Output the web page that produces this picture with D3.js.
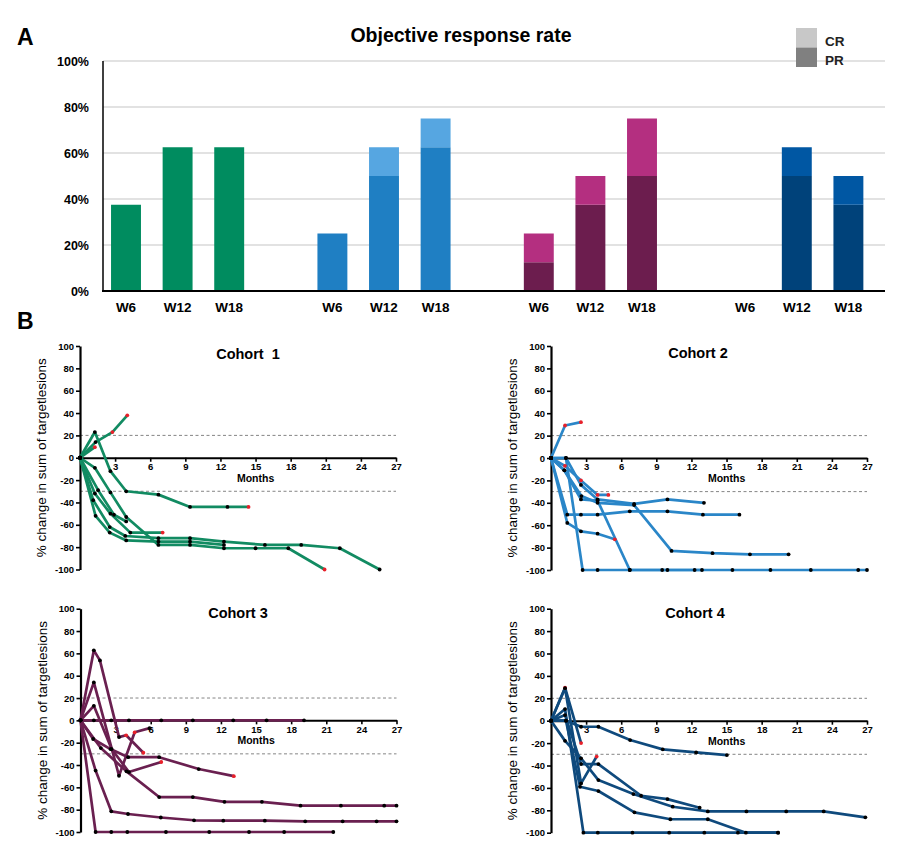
<!DOCTYPE html>
<html><head><meta charset="utf-8">
<script src="https://cdn.jsdelivr.net/npm/d3@7"></script>
<style>body{margin:0;background:#fff}svg{display:block}</style>
</head><body>
<svg id="c" width="906" height="841"></svg>
<script>
// ---------- DATA ----------
const orrCohorts = ["Cohort 1", "Cohort 2", "Cohort 3", "Cohort 4"];
const orrWeeks = ["W6", "W12", "W18"];
const orrPR = [[37.5, 62.5, 62.5], [25, 50, 62.5], [12.5, 37.5, 50], [0, 50, 37.5]];
const orrCR = [[0, 0, 0], [0, 12.5, 12.5], [12.5, 12.5, 25], [0, 12.5, 12.5]];
const orrTicks = [0, 20, 40, 60, 80, 100];
const legendItems = ["CR", "PR"];

const monthTicks = [3, 6, 9, 12, 15, 18, 21, 24, 27];
const pctTicks = [-100, -80, -60, -40, -20, 0, 20, 40, 60, 80, 100];
const refLevels = [20, -30];
const panelTitles = ["Cohort  1", "Cohort 2", "Cohort 3", "Cohort 4"];

// each patient: [month, % change, redFlag]
const cohort1 = [
  [[0,0],[1.27,23],[2.6,-12],[3.95,-30],[6.7,-33],[9.4,-44],[12.6,-44],[14.4,-44,1]],
  [[0,0],[1.27,9.5,1]],
  [[0,0],[1.33,14],[2.77,23,1],[4.04,38,1]],
  [[0,0],[1.27,-9],[2.6,-31],[3.95,-53],[6.7,-78],[9.4,-78],[12.3,-81],[15,-81],[17.8,-81],[20.9,-100,1]],
  [[0,0],[1.55,-29],[2.9,-51],[3.95,-57]],
  [[0,0],[1.27,-32],[2.6,-50],[4.3,-67],[7.06,-67,1]],
  [[0,0],[1.13,-38],[2.54,-62],[3.87,-70],[6.7,-72],[9.4,-72],[12.3,-75],[15.8,-78],[18.9,-78],[22.2,-81],[25.6,-100]],
  [[0,0],[1.33,-52],[2.54,-67],[3.95,-74],[6.7,-75],[9.4,-75],[12.3,-78]]
];
const cohort2 = [
  [[0,0],[1.2,29,1],[2.56,32,1]],
  [[0,0],[1.19,-7,1],[2.56,-20,1],[3.98,-33,1],[4.9,-33,1]],
  [[0,0],[1.28,0],[2.56,-24],[3.98,-37],[7.1,-41],[9.95,-37],[13.07,-40]],
  [[0,0],[1.14,-11],[2.6,-34],[3.98,-40],[7.1,-42],[10.3,-83],[13.8,-85],[17,-86],[20.3,-86]],
  [[0,0],[1.39,-50.6],[2.56,-50.6],[3.98,-50.6],[6.73,-47.6],[9.95,-47.6],[12.98,-50.6],[16.1,-50.6]],
  [[0,0],[1.39,-58],[2.56,-65.5],[3.98,-67.6],[5.45,-72.6,1]],
  [[0,0],[1.28,0],[2.7,-100],[3.98,-100],[6.73,-100],[9.5,-100],[12.27,-100],[15.5,-100],[18.75,-100],[22.2,-100],[26.25,-100],[27,-100]],
  [[0,0],[1.14,-11],[2.56,-37],[3.98,-38],[6.73,-100],[9.95,-100],[12.9,-100]]
];
const cohort3 = [
  [[0,0],[1.14,62.7],[1.66,53.7],[3.29,-15],[3.9,-13.4,1],[5.37,-29,1]],
  [[0,0],[1.14,34],[3.29,-49.6],[4.63,-10.7,1],[5.9,-7]],
  [[0,0],[1.14,13],[2.66,-25.7],[4.14,-46.3],[6.9,-37.3,1]],
  [[0,0],[1.14,0],[2.63,0],[4.14,0],[6.9,0],[9.6,0],[13.05,0],[15.9,0],[19.1,0]],
  [[0,0],[1.08,-16.7],[2.56,-25.7],[4.07,-33],[6.72,-33],[10.1,-43.6],[13.1,-50,1]],
  [[0,0],[1.74,-24.8],[3.93,-45.7],[6.72,-68.7],[9.6,-68.7],[12.3,-73],[15.5,-73],[18.8,-76.4],[22.25,-76.4],[25.95,-76.4],[27,-76.4]],
  [[0,0],[1.29,-45],[2.63,-81.5],[4.06,-83.9],[6.86,-87],[9.7,-89.5],[12.2,-89.9],[15.75,-89.9],[19.2,-90.4],[22.4,-90.4],[25.3,-90.4],[27,-90.4]],
  [[0,0],[1.29,-100],[2.63,-100],[4,-100],[7.3,-100],[11,-100],[14.4,-100],[17.4,-100],[21.6,-100]]
];
const cohort4 = [
  [[0,0],[1.2,29.5,1],[2.57,-20,1]],
  [[0,0],[1.2,29],[2.57,-56],[3.9,-32,1]],
  [[0,0],[1.2,10.4],[2.77,-100],[4,-100],[6.96,-100],[10.1,-100],[13.1,-100],[15.97,-100],[19.4,-100]],
  [[0,0],[1.28,0],[2.57,-5.4],[4.05,-5.4],[6.76,-17.3],[9.55,-25.6],[12.4,-28.3],[15.03,-30.7]],
  [[0,0],[1.2,5],[2.57,-38.7],[4.05,-38.7],[7.7,-67],[9.95,-70],[12.7,-77.7]],
  [[0,0],[1.2,-18],[2.57,-33.6],[4.05,-53],[7.04,-65.5],[10.4,-76.8],[13.4,-81],[16.7,-81],[20.1,-81],[23.3,-81],[26.86,-86.3]],
  [[0,0],[1.28,0],[2.48,-59],[4.05,-62.8],[7.13,-81.8],[10.2,-88],[13.4,-88],[16.65,-100],[19.4,-100]]
];
const cohortSeries = [cohort1, cohort2, cohort3, cohort4];

// ---------- STYLE ----------
const F = "'Liberation Sans', Arial, sans-serif";
const prColors = ["#008C5F", "#1F7FC3", "#6C1D4E", "#00427A"];
const crColors = ["#008C5F", "#56A6E1", "#B42F80", "#0057A3"];
const legendColors = ["#C8C8C8", "#808080"];
const lineColors = ["#128B62", "#2A86C8", "#6A2050", "#0F4A7D"];

const svg = d3.select("#c");

// ---------- PANEL A ----------
const yA = d3.scaleLinear([0, 100], [291, 61]);
const x0 = d3.scaleBand(orrCohorts, [100.2, 925.8]);
const x1 = d3.scaleBand(orrWeeks, [0, x0.bandwidth() * 0.75]).paddingInner(0.42).paddingOuter(0.21);

svg.append("text").attr("x", 17).attr("y", 45).attr("font-family", F).attr("font-weight", "bold")
  .attr("font-size", 23).text("A");
svg.append("text").attr("x", 461).attr("y", 42).attr("text-anchor", "middle").attr("font-family", F)
  .attr("font-weight", "bold").attr("font-size", 19.5).text("Objective response rate");

orrTicks.filter(t => t > 0).forEach(t => {
  svg.append("line").attr("x1", 103).attr("x2", 885).attr("y1", yA(t)).attr("y2", yA(t))
    .attr("stroke", "#D9D9D9").attr("stroke-width", 1.5);
});
orrTicks.forEach(t => {
  svg.append("text").attr("x", 89).attr("y", yA(t) + 4.5).attr("text-anchor", "end")
    .attr("font-family", F).attr("font-weight", "bold").attr("font-size", 12.5).text(t + "%");
});

orrCohorts.forEach((c, i) => {
  orrWeeks.forEach((w, j) => {
    const bx = x0(c) + x1(w), bw = x1.bandwidth();
    const pr = orrPR[i][j], cr = orrCR[i][j];
    if (pr > 0) svg.append("rect").attr("x", bx).attr("width", bw).attr("y", yA(pr))
      .attr("height", yA(0) - yA(pr)).attr("fill", prColors[i]);
    if (cr > 0) svg.append("rect").attr("x", bx).attr("width", bw).attr("y", yA(pr + cr))
      .attr("height", yA(pr) - yA(pr + cr)).attr("fill", crColors[i]);
    svg.append("text").attr("x", bx + bw / 2).attr("y", 312).attr("text-anchor", "middle")
      .attr("font-family", F).attr("font-weight", "bold").attr("font-size", 13.5).text(w);
  });
});
svg.append("line").attr("x1", 103).attr("x2", 103).attr("y1", 61).attr("y2", 291.5).attr("stroke", "#000").attr("stroke-width", 1.5);
svg.append("line").attr("x1", 102).attr("x2", 885).attr("y1", 291).attr("y2", 291).attr("stroke", "#000").attr("stroke-width", 1.8);

legendItems.forEach((l, k) => {
  svg.append("rect").attr("x", 796).attr("y", 28 + k * 19.5).attr("width", 21).attr("height", 19.5).attr("fill", legendColors[k]);
  svg.append("text").attr("x", 825).attr("y", 46 + k * 19).attr("font-family", F).attr("font-weight", "bold")
    .attr("font-size", 13.5).attr("fill", "#222").text(l);
});

// ---------- PANEL B ----------
svg.append("text").attr("x", 17).attr("y", 329).attr("font-family", F).attr("font-weight", "bold")
  .attr("font-size", 23).text("B");

const panels = [
  {x0: 80, x1: 396, yb: 569.5, yt: 346, tx: 248, ty: 359},
  {x0: 551, x1: 867, yb: 570, yt: 346, tx: 698, ty: 358},
  {x0: 80.5, x1: 396.5, yb: 832, yt: 608.7, tx: 238, ty: 618},
  {x0: 551, x1: 867, yb: 832.7, yt: 608.7, tx: 695, ty: 618}
];

panels.forEach((p, i) => {
  const x = d3.scaleLinear([0, 27], [p.x0, p.x1]);
  const y = d3.scaleLinear([-100, 100], [p.yb, p.yt]);
  const g = svg.append("g");

  refLevels.forEach(v => {
    g.append("line").attr("x1", x(0)).attr("x2", x(27)).attr("y1", y(v)).attr("y2", y(v))
      .attr("stroke", "#666").attr("stroke-width", 0.8).attr("stroke-dasharray", "3,2.5");
  });

  const ya = g.append("g").attr("transform", `translate(${x(0)},0)`)
    .call(d3.axisLeft(y).tickValues(pctTicks).tickSize(4).tickSizeOuter(0).tickPadding(2).tickFormat(d => String(d)));
  ya.select(".domain").attr("stroke-width", 2.2);
  ya.selectAll(".tick line").attr("stroke-width", 1.6);
  ya.selectAll(".tick text").attr("font-family", F).attr("font-weight", "bold").attr("font-size", 9.5).attr("fill", "#000");

  const xa = g.append("g").attr("transform", `translate(0,${y(0)})`)
    .call(d3.axisBottom(x).tickValues(monthTicks).tickSize(4).tickSizeOuter(0).tickPadding(1.5));
  xa.select(".domain").attr("stroke-width", 2);
  xa.selectAll(".tick line").attr("stroke-width", 1.6);
  xa.selectAll(".tick text").attr("font-family", F).attr("font-weight", "bold").attr("font-size", 9.5).attr("fill", "#000");

  g.append("text").attr("x", x(15)).attr("y", y(0) + 24).attr("text-anchor", "middle")
    .attr("font-family", F).attr("font-weight", "bold").attr("font-size", 10.5).text("Months");

  g.append("text").attr("transform", `translate(${x(0) - 34},${y(0)}) rotate(-90)`)
    .attr("text-anchor", "middle").attr("font-family", F).attr("font-size", 13.5).text("% change in sum of targetlesions");

  g.append("text").attr("x", p.tx).attr("y", p.ty).attr("text-anchor", "middle")
    .attr("font-family", F).attr("font-weight", "bold").attr("font-size", 14.5).attr("xml:space", "preserve")
    .style("white-space", "pre").text(panelTitles[i]);

  const line = d3.line().x(d => x(d[0])).y(d => y(d[1]));
  cohortSeries[i].forEach(s => {
    g.append("path").datum(s).attr("d", line).attr("fill", "none").attr("stroke", lineColors[i])
      .attr("stroke-width", 2.7).attr("stroke-linejoin", "round").attr("stroke-linecap", "butt");
  });
  cohortSeries[i].forEach(s => {
    s.forEach(d => {
      g.append("circle").attr("cx", x(d[0])).attr("cy", y(d[1])).attr("r", 1.9)
        .attr("fill", d[2] ? "#E8202A" : "#000");
    });
  });
});
</script>
</body></html>
